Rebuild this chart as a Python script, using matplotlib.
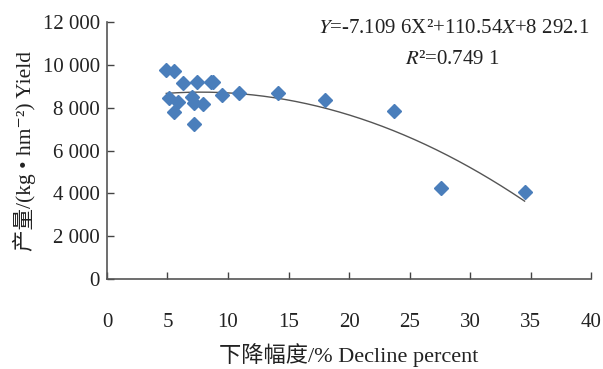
import numpy as np
import matplotlib
matplotlib.use("Agg")
import matplotlib.pyplot as plt

plt.rcParams["font.family"] = ["Liberation Serif", "Noto Sans CJK SC", "DejaVu Serif"]
plt.rcParams["mathtext.fontset"] = "stix"

# decline percent (%) and yield (kg/hm2)
decline = [4.9, 5.5, 6.3, 7.4, 8.6, 8.8, 5.1, 5.9, 5.5, 7.0, 7.2, 7.9,
           7.2, 9.5, 10.9, 14.1, 18.0, 23.7, 27.6, 34.5]
yield_kg = [9770, 9720, 9170, 9200, 9200, 9200, 8430, 8240, 7800, 8490, 8220, 8150,
            7260, 8600, 8680, 8680, 8350, 7830, 4240, 4080]

# fitted quadratic shown on the chart
coef_a, coef_b, coef_c = -7.1096, 110.54, 8292.1

x_ticks = [0, 5, 10, 15, 20, 25, 30, 35, 40]
y_ticks = [0, 2000, 4000, 6000, 8000, 10000, 12000]
y_tick_labels = ["0", "2 000", "4 000", "6 000", "8 000", "10 000", "12 000"]

fig = plt.figure(figsize=(6.03, 3.69), dpi=100)
ax = fig.add_axes([0.1774, 0.243, 0.803, 0.698])

ax.plot(decline, yield_kg, linestyle="none", marker="D", ms=6.8,
        color="#4a7ebb", zorder=3)

xs = np.linspace(min(decline), max(decline), 200)
ax.plot(xs, coef_a * xs**2 + coef_b * xs + coef_c, color="#555555", lw=1.0, zorder=2)

ax.set_xlim(0, 40)
ax.set_ylim(0, 12000)
ax.set_xticks(x_ticks)
ax.set_yticks(y_ticks)
ax.set_yticklabels(y_tick_labels)
ax.tick_params(direction="in", length=5, width=1, color="#444444",
               labelsize=15, labelcolor="#222222")
ax.tick_params(axis="x", pad=24)
ax.tick_params(axis="y", pad=5)

for side in ["top", "right"]:
    ax.spines[side].set_visible(False)
for side in ["left", "bottom"]:
    ax.spines[side].set_color("#555555")
    ax.spines[side].set_linewidth(1.2)

ax.set_xlabel("下降幅度/% Decline percent", fontsize=16, color="#222222", labelpad=8)
ax.set_ylabel("产量/(kg • hm⁻²) Yield", fontsize=15.5, color="#222222", labelpad=5)

ax.text(0.996, 0.956, r"$Y$=-7.109 6X²+110.54$X$+8 292.1",
        transform=ax.transAxes, ha="right", va="baseline", fontsize=15, color="#222222")
ax.text(0.81, 0.836, r"$R$²=0.749 1",
        transform=ax.transAxes, ha="right", va="baseline", fontsize=15, color="#222222")

fig.savefig("out.png", dpi=100)
